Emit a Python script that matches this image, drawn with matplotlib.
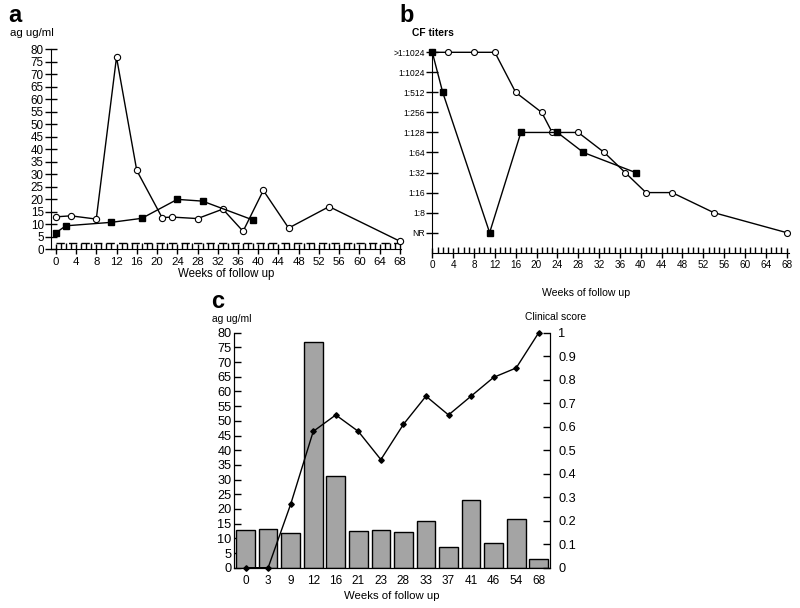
import matplotlib
matplotlib.use('Agg')
import matplotlib.pyplot as plt
import numpy as np

plt.rcParams['font.family'] = ['Liberation Sans', 'DejaVu Sans']

# panel a: antigen (ug/ml) over weeks, two patients
a_open_wk = [0, 3, 8, 12, 16, 21, 23, 28, 33, 37, 41, 46, 54, 68]
a_open_ag = [12.9, 13.3, 12.0, 76.9, 31.5, 12.6, 12.8, 12.2, 16.0, 7.1, 23.5, 8.4, 17.0, 3.1]
a_sq_wk = [0, 2, 11, 17, 24, 29, 39]
a_sq_ag = [6.5, 9.3, 10.7, 12.3, 19.9, 19.2, 11.6]
a_cutoff = 2.3

# panel b: CF titers
titer_labels = ['NR', '1:8', '1:16', '1:32', '1:64', '1:128', '1:256', '1:512', '1:1024', '>1:1024']
b_open_wk = [0, 3, 8, 12, 16, 21, 23, 28, 33, 37, 41, 46, 54, 68]
b_open_t = ['>1:1024', '>1:1024', '>1:1024', '>1:1024', '1:512', '1:256', '1:128', '1:128',
            '1:64', '1:32', '1:16', '1:16', '1:8', 'NR']
b_sq_wk = [0, 2, 11, 17, 24, 29, 39]
b_sq_t = ['>1:1024', '1:512', 'NR', '1:128', '1:128', '1:64', '1:32']

# panel c: antigen bars + clinical score
c_weeks = ['0', '3', '9', '12', '16', '21', '23', '28', '33', '37', '41', '46', '54', '68']
c_ag = [12.8, 13.2, 11.8, 76.9, 31.3, 12.5, 12.7, 12.0, 15.8, 6.9, 23.0, 8.4, 16.7, 3.0]
c_score = [0, 0, 0.27, 0.58, 0.65, 0.58, 0.46, 0.61, 0.73, 0.65, 0.73, 0.81, 0.85, 1.0]

W, H = 800, 608
fig = plt.figure(figsize=(8, 6.08), dpi=100, facecolor='white')


def fx(px):
    return px / W


def fy(py):
    return 1 - py / H


def week_axis(ax):
    ax.set_xticks(range(0, 69, 4))
    ax.set_xticks(range(0, 69, 1), minor=True)
    ax.tick_params(axis='x', which='major', direction='inout', length=7, width=1)
    ax.tick_params(axis='x', which='minor', direction='in', length=4, width=1)
    for s in ['top', 'right']:
        ax.spines[s].set_visible(False)


# ---- panel a
ax1 = fig.add_axes([fx(50.7), fy(249), fx(350.3), 199.5 / H])
ax1.plot(a_open_wk, a_open_ag, color='k', lw=1, marker='o', ms=4.5, mfc='white', mec='k', mew=0.8,
         clip_on=False, zorder=3)
ax1.plot(a_sq_wk, a_sq_ag, color='k', lw=1, marker='s', ms=4.5, mfc='k', clip_on=False, zorder=3)
ax1.plot([0, 68], [a_cutoff, a_cutoff], color='k', lw=1, dashes=(6, 3))
ax1.set_xlim(-1, 68.2)
ax1.set_ylim(0, 80)
ax1.set_yticks(range(0, 81, 5))
ax1.tick_params(axis='y', direction='inout', length=8, width=1, labelsize=8.4, pad=1)
week_axis(ax1)
ax1.tick_params(axis='x', labelsize=8.2, pad=2)
ax1.set_xlabel('Weeks of follow up', fontsize=8.3, labelpad=1)
fig.text(fx(8), fy(15), 'a', fontsize=17, fontweight='bold', va='center')
fig.text(fx(10), fy(33), 'ag ug/ml', fontsize=8.2, va='center')

# ---- panel b
ax2 = fig.add_axes([fx(432.3), fy(252.7), fx(357), 200.4 / H])
yo = [titer_labels.index(t) for t in b_open_t]
ys = [titer_labels.index(t) for t in b_sq_t]
ax2.plot(b_open_wk, yo, color='k', lw=1, marker='o', ms=4.3, mfc='white', mec='k', mew=0.8,
         clip_on=False, zorder=3)
ax2.plot(b_sq_wk, ys, color='k', lw=1, marker='s', ms=4.3, mfc='k', clip_on=False, zorder=4)
ax2.set_xlim(0, 68.5)
ax2.set_ylim(-1, 9)
ax2.set_yticks(range(len(titer_labels)))
ax2.set_yticklabels(titer_labels)
ax2.tick_params(axis='y', direction='inout', length=8, width=1, labelsize=6.2, pad=1)
week_axis(ax2)
ax2.tick_params(axis='x', labelsize=7.2, pad=2)
fig.text(fx(586), fy(293), 'Weeks of follow up', fontsize=7.6, ha='center', va='center')
fig.text(fx(399), fy(15), 'b', fontsize=17, fontweight='bold', va='center')
fig.text(fx(412), fy(33), 'CF titers', fontsize=7.4, fontweight='bold', va='center')

# ---- panel c
ax3 = fig.add_axes([fx(234.3), 40.3 / H, fx(315.7), 235 / H])
xc = np.arange(len(c_weeks))
ax3.bar(xc, c_ag, width=0.83, color='#a4a4a4', edgecolor='k', linewidth=1, zorder=2)
ax3.set_xlim(-0.5, len(c_weeks) - 0.5)
ax3.set_ylim(0, 80)
ax3.set_yticks(range(0, 81, 5))
ax3.set_xticks(xc)
ax3.set_xticklabels(c_weeks)
ax3.tick_params(axis='x', length=0, labelsize=8.5, pad=5)
ax3.tick_params(axis='y', direction='in', length=5, width=1, labelsize=9.2, pad=2)
ax3.spines['top'].set_visible(False)
ax3.set_xlabel('Weeks of follow up', fontsize=8.2, labelpad=3)

ax4 = ax3.twinx()
ax4.plot(xc, c_score, color='k', lw=1, marker='D', ms=2.8, mfc='k', clip_on=False, zorder=3)
ax4.set_ylim(0, 1)
ax4.set_yticks(np.round(np.arange(0, 1.01, 0.1), 1))
ax4.set_yticklabels(['0', '0.1', '0.2', '0.3', '0.4', '0.5', '0.6', '0.7', '0.8', '0.9', '1'])
ax4.tick_params(axis='y', direction='in', length=5, width=1, labelsize=9.2, pad=6)
ax4.spines['top'].set_visible(False)

fig.text(fx(211), fy(302), 'c', fontsize=17, fontweight='bold', va='center')
fig.text(fx(212), fy(319), 'ag ug/ml', fontsize=7.4, va='center')
fig.text(fx(525), fy(317), 'Clinical score', fontsize=7.4, va='center')

fig.savefig('out.png', dpi=100, facecolor='white')
